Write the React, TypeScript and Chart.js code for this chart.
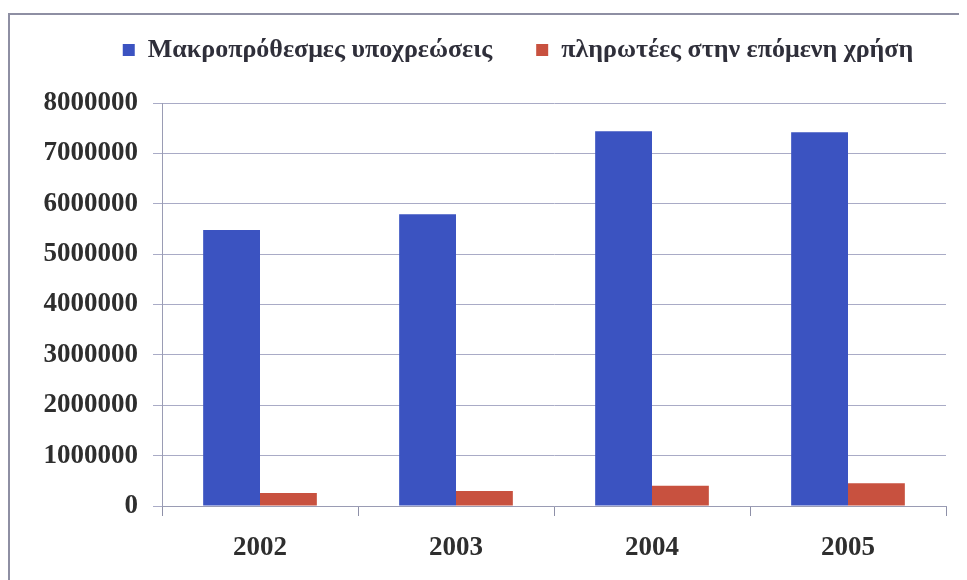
import React, { useEffect, useRef } from "react";
import { Chart, registerables } from "chart.js";

Chart.register(...registerables);

const categories = ["2002", "2003", "2004", "2005"];
const longTermLabel = "Μακροπρόθεσμες υποχρεώσεις";
const nextYearLabel = "πληρωτέες στην επόμενη χρήση";
const longTermValues = [5480000, 5790000, 7440000, 7420000];
const nextYearValues = [260000, 300000, 400000, 450000];
const yMin = 0;
const yMax = 8000000;
const yStep = 1000000;

const legendExtra = {
  id: "legendExtra",
  beforeInit(chart: any) {
    const legend = chart.legend;
    if (!legend) return;
    const origFit = legend.fit;
    legend.fit = function () {
      origFit.call(this);
      this.height += 15;
    };
  },
  afterLayout(chart: any) {
    const legend = chart.legend;
    if (!legend) return;
    legend.left += 30;
    legend.right += 30;
    legend.top -= 15;
    legend.bottom -= 15;
  },
};

export default function App() {
  const ref = useRef<HTMLCanvasElement | null>(null);

  useEffect(() => {
    if (!ref.current) return;
    const serif = "'Liberation Serif', 'Times New Roman', serif";
    const chart = new Chart(ref.current, {
      type: "bar",
      data: {
        labels: categories,
        datasets: [
          {
            label: longTermLabel,
            data: longTermValues,
            backgroundColor: "#3b53c1",
            categoryPercentage: 0.58,
            barPercentage: 1,
          },
          {
            label: nextYearLabel,
            data: nextYearValues,
            backgroundColor: "#c8513f",
            categoryPercentage: 0.58,
            barPercentage: 1,
          },
        ],
      },
      plugins: [legendExtra],
      options: {
        animation: false,
        responsive: false,
        maintainAspectRatio: false,
        layout: { padding: { left: 22, right: 21, top: 0, bottom: 0 } },
        plugins: {
          tooltip: { enabled: false },
          legend: {
            position: "top",
            labels: {
              boxWidth: 12,
              boxHeight: 12,
              padding: 44,
              color: "#2f2f3a",
              font: { family: serif, size: 26, weight: "bold" },
            },
          },
        },
        scales: {
          x: {
            grid: {
              drawOnChartArea: false,
              drawTicks: true,
              tickLength: 10,
              color: "#8e90a8",
            },
            border: { display: true, color: "#9a9cb4", width: 1 },
            ticks: {
              padding: 16,
              color: "#2e2e2e",
              font: { family: serif, size: 27, weight: "bold" },
            },
            afterFit(scale: any) {
              scale.height = 74;
            },
          },
          y: {
            min: yMin,
            max: yMax,
            ticks: {
              stepSize: yStep,
              padding: 15,
              color: "#2e2e2e",
              font: { family: serif, size: 27, weight: "bold" },
              callback: (v: any) => String(v),
            },
            grid: {
              color: "#a9abc6",
              tickLength: 9,
            },
            border: { display: true, color: "#9a9cb4", width: 1 },
            afterFit(scale: any) {
              scale.width = 132;
            },
          },
        },
      },
    });
    return () => chart.destroy();
  }, []);

  return (
    <div style={{ position: "relative", width: 959, height: 572 }}>
      <div
        style={{
          position: "absolute",
          left: 0,
          top: 5,
          width: 959,
          height: 567,
          borderTop: "2px solid #8e8fa3",
          borderLeft: "2px solid #8e8fa3",
          boxSizing: "border-box",
        }}
      />
      <canvas
        ref={ref}
        width={959}
        height={572}
        style={{ position: "absolute", left: 0, top: 0, width: 959, height: 572 }}
      />
    </div>
  );
}
